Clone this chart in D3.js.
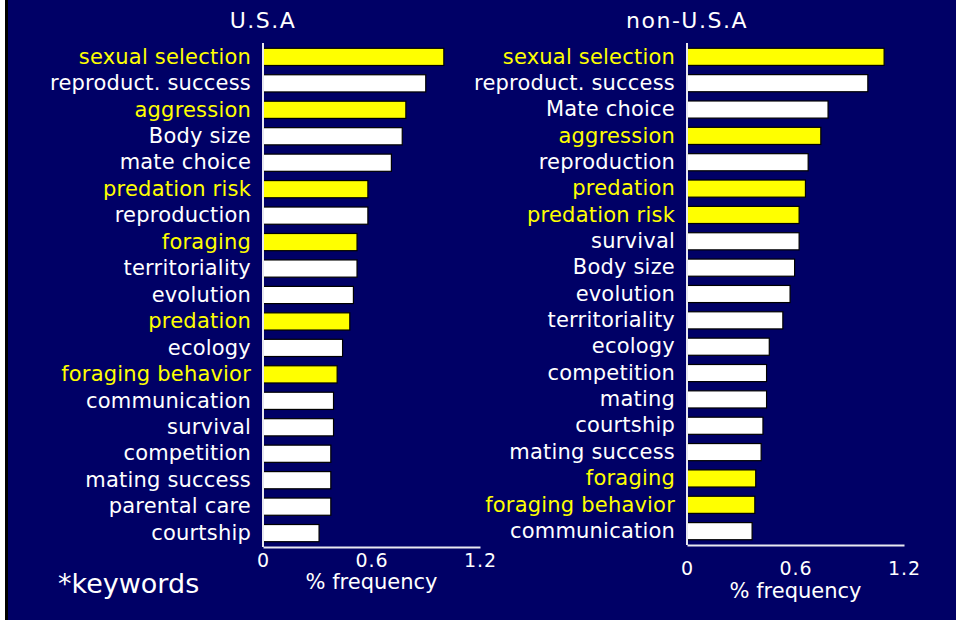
<!DOCTYPE html>
<html>
<head>
<meta charset="utf-8">
<script src="https://cdn.jsdelivr.net/npm/d3@7"></script>
<style>
  html, body { margin: 0; padding: 0; background: #ffffff; }
  svg { display: block; }
  text { font-family: "DejaVu Sans", Verdana, sans-serif; }
</style>
</head>
<body>
<div id="chart"></div>
<script>
// keywords, USA papers
var usaKeywords = ["sexual selection", "reproduct. success", "aggression", "Body size", "mate choice",
    "predation risk", "reproduction", "foraging", "territoriality", "evolution", "predation",
    "ecology", "foraging behavior", "communication", "survival", "competition",
    "mating success", "parental care", "courtship"];
var usaValues = [1.0, 0.9, 0.79, 0.77, 0.71, 0.58, 0.58, 0.52, 0.52, 0.5, 0.48,
    0.44, 0.41, 0.39, 0.39, 0.375, 0.375, 0.375, 0.31];

// keywords, non-USA papers
var nonUsaKeywords = ["sexual selection", "reproduct. success", "Mate choice", "aggression",
    "reproduction", "predation", "predation risk", "survival", "Body size", "evolution",
    "territoriality", "ecology", "competition", "mating", "courtship", "mating success",
    "foraging", "foraging behavior", "communication"];
var nonUsaValues = [1.09, 1.0, 0.78, 0.74, 0.67, 0.655, 0.62, 0.62, 0.595, 0.57,
    0.53, 0.455, 0.44, 0.44, 0.42, 0.41, 0.38, 0.375, 0.36];

// keywords shown in yellow
var highlighted = ["sexual selection", "aggression", "predation risk", "foraging",
    "predation", "foraging behavior"];

var tickValues = [0, 0.6, 1.2];

var width = 956;
var height = 620;
var navy = "#000066";

var svg = d3.select("#chart").append("svg")
    .attr("width", width)
    .attr("height", height);

// fondo con borde izquierdo
svg.append("rect").attr("x", 0).attr("y", 0).attr("width", width).attr("height", height).attr("fill", "#ffffff");
svg.append("rect").attr("x", 5).attr("y", 0).attr("width", width - 5).attr("height", height).attr("fill", "#000000");
svg.append("rect").attr("x", 8).attr("y", 0).attr("width", width - 8).attr("height", height).attr("fill", navy);

var color = d3.scaleOrdinal()
    .domain([true, false])
    .range(["#ffff00", "#ffffff"]);

function isKey(k) { return highlighted.indexOf(k) >= 0; }

function drawPanel(opts) {
    var x = d3.scaleLinear()
        .domain([0, 1.2])
        .range([opts.x0, opts.x0 + 217]);

    var y = d3.scaleBand()
        .domain(opts.keywords)
        .range([43, opts.base])
        .paddingInner(0.35)
        .paddingOuter(0.2);

    var g = svg.append("g");

    // titulo
    g.append("text")
        .attr("x", opts.x0)
        .attr("y", 28)
        .attr("text-anchor", "middle")
        .attr("fill", "#ffffff")
        .style("font-size", "22px")
        .style("letter-spacing", "1.5px")
        .text(opts.title);

    // barras
    g.selectAll("rect.bar")
        .data(opts.values)
        .enter()
        .append("rect")
        .attr("class", "bar")
        .attr("x", x(0))
        .attr("y", function(d, i) { return y(opts.keywords[i]); })
        .attr("width", function(d) { return x(d) - x(0); })
        .attr("height", y.bandwidth())
        .attr("fill", function(d, i) { return color(isKey(opts.keywords[i])); })
        .attr("stroke", "#000000")
        .attr("stroke-width", 1.2);

    // eje vertical con etiquetas
    var yAxis = g.append("g")
        .attr("transform", "translate(" + x(0) + ",0)")
        .call(d3.axisLeft(y).tickSize(0).tickSizeOuter(0).tickPadding(12));
    yAxis.select(".domain").attr("stroke", "#e8e8f0").attr("stroke-width", 2)
        .attr("d", "M0," + 43 + "V" + opts.base);
    yAxis.selectAll(".tick text")
        .style("font-size", "21px")
        .style("font-family", "DejaVu Sans, Verdana, sans-serif")
        .style("letter-spacing", "0.2px")
        .attr("fill", function(d) { return color(isKey(d)); });

    // eje horizontal
    var xAxis = g.append("g")
        .attr("transform", "translate(0," + opts.base + ")")
        .call(d3.axisBottom(x).tickValues(tickValues).tickSize(0).tickSizeOuter(0)
            .tickPadding(opts.tickPad).tickFormat(function(d) { return d === 0 ? "0" : d3.format(".1f")(d); }));
    xAxis.select(".domain").attr("stroke", "#e8e8f0").attr("stroke-width", 2);
    xAxis.selectAll(".tick text")
        .style("font-size", "19px")
        .style("font-family", "DejaVu Sans, Verdana, sans-serif")
        .style("letter-spacing", "1px")
        .attr("fill", "#ffffff");

    g.append("text")
        .attr("x", (x.range()[0] + x.range()[1]) / 2)
        .attr("y", opts.labelY)
        .attr("text-anchor", "middle")
        .attr("fill", "#ffffff")
        .style("font-size", "21px")
        .text("% frequency");
}

drawPanel({ title: "U.S.A", keywords: usaKeywords, values: usaValues, x0: 263, base: 547, tickPad: 7, labelY: 589 });
drawPanel({ title: "non-U.S.A", keywords: nonUsaKeywords, values: nonUsaValues, x0: 687, base: 545, tickPad: 17, labelY: 598 });

svg.append("text")
    .attr("x", 58)
    .attr("y", 593)
    .attr("fill", "#ffffff")
    .style("font-size", "27px")
    .text("*keywords");
</script>
</body>
</html>
